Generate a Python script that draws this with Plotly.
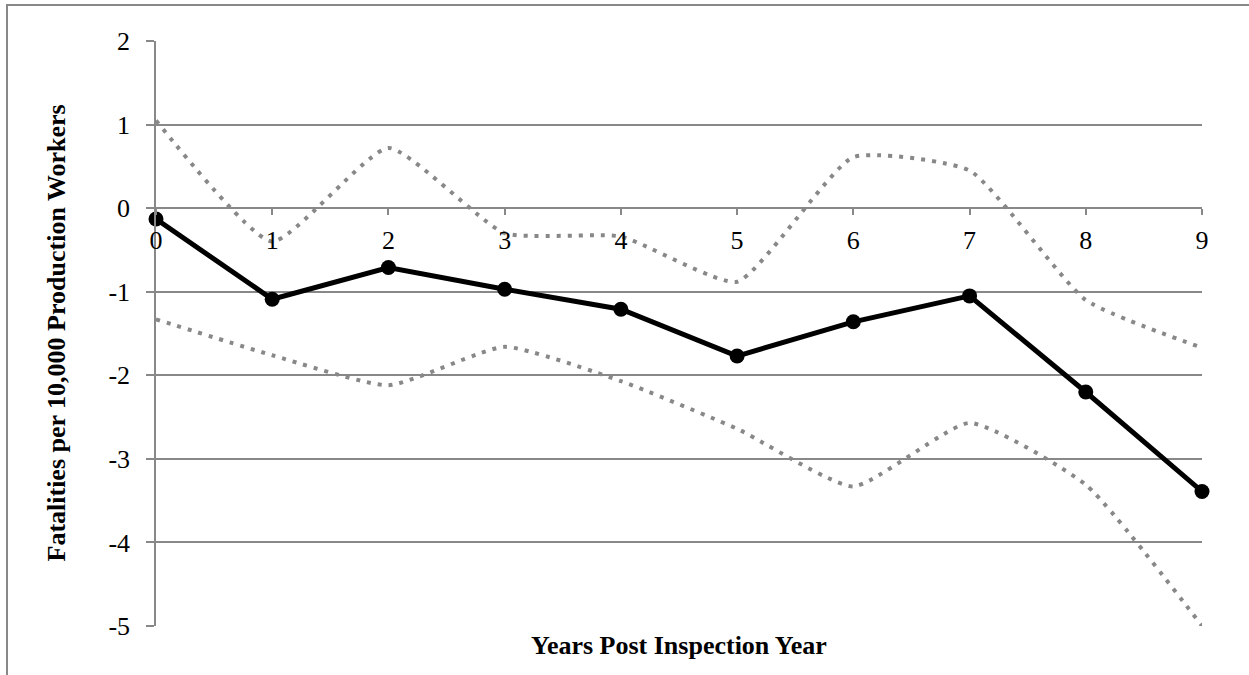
import plotly.graph_objects as go

years = [0, 1, 2, 3, 4, 5, 6, 7, 8, 9]
estimate = [-0.13, -1.09, -0.71, -0.97, -1.21, -1.77, -1.36, -1.05, -2.20, -3.39]
upper_ci = [1.05, -0.40, 0.72, -0.30, -0.34, -0.88, 0.61, 0.45, -1.10, -1.67]
lower_ci = [-1.33, -1.76, -2.12, -1.66, -2.07, -2.64, -3.33, -2.57, -3.31, -5.00]
y_ticks = [2, 1, 0, -1, -2, -3, -4, -5]
y_ticktext = ["2", "1", "0", "-1", "-2", "-3", "-4", "-5"]

GRAY = "#888888"
FONT = "Liberation Serif, Times New Roman, serif"

fig = go.Figure()
for ci in (upper_ci, lower_ci):
    fig.add_trace(go.Scatter(
        x=years, y=ci, mode="lines",
        line=dict(color=GRAY, width=4, dash="4px,7px", shape="spline", smoothing=0.5),
        cliponaxis=False, showlegend=False, hoverinfo="skip"))
fig.add_trace(go.Scatter(
    x=years, y=estimate, mode="lines+markers",
    line=dict(color="black", width=5),
    marker=dict(color="black", size=15),
    cliponaxis=False, showlegend=False))

fig.update_layout(
    width=1249, height=675,
    margin=dict(l=156, r=47, t=41, b=49),
    paper_bgcolor="white", plot_bgcolor="white",
    font=dict(family=FONT, size=26, color="black"),
    xaxis=dict(range=[0, 9], tickvals=years, showgrid=False, zeroline=False,
               showline=True, linecolor=GRAY, linewidth=2,
               ticks="outside", ticklen=6, tickcolor=GRAY, tickwidth=1.5,
               anchor="free", position=5/7, ticklabelstandoff=3,
               tickfont=dict(family=FONT, size=26)),
    yaxis=dict(range=[-5, 2], tickvals=y_ticks, ticktext=y_ticktext,
               showgrid=True, gridcolor=GRAY,
               gridwidth=1.5, zeroline=False, showline=True, linecolor=GRAY,
               linewidth=1.5, ticks="outside", ticklen=8, tickcolor=GRAY,
               tickwidth=1.5, ticklabelstandoff=11,
               tickfont=dict(family=FONT, size=26)),
    annotations=[
        dict(text="<b>Years Post Inspection Year</b>", xref="paper", yref="paper",
             x=0.5, y=0, yshift=-19, showarrow=False, xanchor="center", yanchor="middle",
             font=dict(family=FONT, size=26)),
        dict(text="<b>Fatalities per 10,000 Production Workers</b>", xref="paper", yref="paper",
             x=0, xshift=-100, y=0.5, textangle=-90, showarrow=False,
             xanchor="center", yanchor="middle", font=dict(family=FONT, size=26)),
    ],
    shapes=[dict(type="rect", xref="paper", yref="paper",
                 x0=-149/1046, x1=1.2, y0=-0.3, y1=1 + 36/585,
                 line=dict(color=GRAY, width=2), layer="below")],
)

fig.write_html("out.html", config={"displayModeBar": False},
               post_script="document.body.style.margin='0';document.body.style.overflow='hidden';")
